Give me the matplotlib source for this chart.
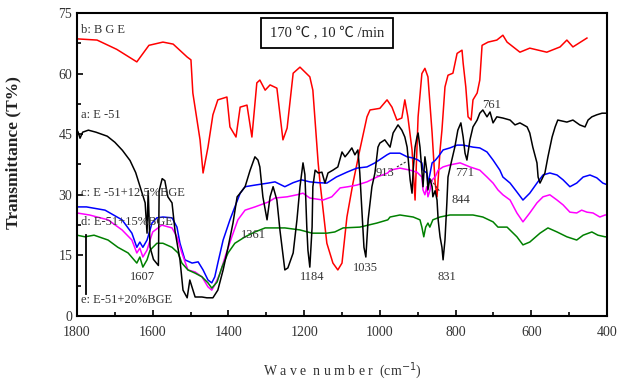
import matplotlib
matplotlib.use("Agg")
import matplotlib.pyplot as plt
from matplotlib.ticker import MultipleLocator

# b: BGE (red)
wn_b = [1800, 1747, 1695, 1642, 1610, 1573, 1546, 1509, 1499, 1494, 1475, 1467, 1454, 1441, 1428,
        1404, 1396, 1380, 1369, 1351, 1338, 1325, 1317, 1303, 1290, 1272, 1256, 1245, 1229, 1211,
        1185, 1177, 1163, 1158, 1140, 1124, 1111, 1100, 1087, 1071, 1053, 1034, 1026, 1000, 981,
        968, 955, 942, 934, 926, 915, 907, 899, 889, 881, 873, 862, 854, 849, 841,
        836, 828, 820, 807, 796, 783, 780, 773, 767, 759, 754, 743, 736, 730, 714,
        691, 675, 664, 630, 604, 559, 524, 506, 490, 453]
t_b = [68.6, 68.3, 66, 62.9, 67, 67.8, 67.3, 64.1, 63.4, 55.2, 43.6, 35.4, 41.8, 49.8, 53.5,
       54.2, 46.8, 44.3, 51.7, 52.2, 44.3, 57.7, 58.4, 55.9, 57.2, 56.4, 43.6, 46.5, 60.1, 61.6,
       59.2, 55.9, 37.9, 33, 18, 13.1, 11.4, 13.1, 24.5, 32.9, 41.1, 49.3, 51, 51.4, 53.5,
       51.7, 48.5, 49, 53.5, 49.3, 41.1, 28.7, 49.3, 60, 61.3, 59.2, 45.3, 32.9, 29.5, 41,
       46, 56.7, 59.6, 60.1, 65, 65.8, 62.6, 56.7, 49.3, 48.5, 53.5, 55.2, 58.4, 67, 67.8,
       68.3, 69.5, 67.8, 65.3, 66.3, 65.3, 66.6, 68.3, 66.6, 68.8]

# a: E-51 (black)
wn_a = [1800, 1797, 1792, 1785, 1770, 1750, 1720, 1700, 1680, 1660, 1645, 1630, 1620, 1615, 1612,
        1607, 1598, 1585, 1583, 1575, 1568, 1560, 1549, 1541, 1528, 1520, 1509, 1502, 1488, 1470,
        1457, 1441, 1428, 1414, 1401, 1388, 1377, 1369, 1356, 1343, 1330, 1322, 1317, 1309, 1298,
        1290, 1282, 1272, 1264, 1251, 1243, 1229, 1219, 1211, 1203, 1198, 1193, 1190, 1185, 1179,
        1177, 1171, 1163, 1153, 1145, 1137, 1124, 1111, 1100, 1092, 1084, 1074, 1066, 1058, 1053,
        1047, 1042, 1037, 1031, 1021, 1013, 1005, 1000, 987, 973, 965, 952, 942, 934, 928,
        920, 915, 912, 907, 902, 899, 894, 889, 886, 881, 876, 873, 868, 862, 860,
        854, 849, 846, 841, 836, 833, 828, 823, 820, 810, 802, 794, 786, 780, 775,
        770, 762, 754, 743, 736, 728, 717, 709, 701, 691, 675, 656, 643, 630, 611,
        604, 596, 585, 582, 577, 564, 556, 545, 537, 530, 506, 490, 472, 458, 450,
        440, 427, 413, 405, 400]
t_a = [46, 45.5, 44, 45.5, 46, 45.5, 44.5, 43, 41, 38.5, 35.5, 31, 28, 20.5, 31,
       17, 14, 12.5, 31, 34, 33.5, 29.5, 28, 21, 13.9, 6.4, 4.5, 8.9, 4.7, 4.7,
       4.5, 4.5, 6.4, 11.4, 17, 23, 29.5, 30.4, 32, 36, 39.4, 38.6, 36.9, 29.5, 23.8,
       29.5, 32, 28.7, 21.3, 11.4, 11.9, 15.6, 23.8, 32, 37.9, 35, 22, 16.3, 12.1, 22,
       32, 36.1, 35.4, 35.6, 32.9, 35.4, 36.1, 36.9, 40.6, 39.4, 40.3, 41.6, 39.9, 41.1, 35.4,
       25.5, 17, 14.6, 23.8, 32, 35.4, 41.8, 42.8, 43.6, 41.8, 45.3, 47.3, 46, 44.3, 41.8,
       33.7, 30.4, 36.1, 41.8, 44.3, 45.3, 41.8, 36, 32, 39.4, 36, 31.2, 34, 32, 29.5,
       31, 28.7, 23.8, 19.6, 17, 13.9, 18.8, 28, 34.4, 38.6, 41.8, 46, 47.8, 44.3, 40.3,
       38.6, 43.6, 46.8, 48.5, 50.2, 51, 49.3, 50.5, 47.8, 49.3, 49, 48.5, 47.3, 47.8, 46.8,
       45.3, 41.8, 37.9, 34.4, 32.9, 35.4, 39.4, 44.3, 46.8, 48.5, 48, 48.5, 47.3, 46.8, 48.5,
       49.3, 49.8, 50.2, 50.2, 50.2]

# stray black spike near 1775
wn_spike = [1775, 1775]
t_spike = [20, 5.5]

# c: E-51+12.5%BGE (blue)
wn_c = [1800, 1775, 1726, 1681, 1655, 1642, 1634, 1626, 1615, 1607, 1602, 1589, 1573, 1549, 1536,
        1528, 1515, 1496, 1480, 1467, 1454, 1444, 1436, 1428, 1414, 1396, 1383, 1369, 1356, 1330,
        1295, 1277, 1251, 1229, 1207, 1185, 1163, 1140, 1115, 1087, 1061, 1034, 1013, 981, 973,
        947, 928, 912, 899, 889, 886, 876, 873, 868, 862, 854, 846, 833, 815, 796,
        780, 754, 736, 717, 701, 683, 675, 656, 638, 622, 604, 585, 569, 551, 532,
        516, 498, 480, 463, 445, 427, 411, 400]
t_c = [27, 27, 26.2, 23.8, 20.5, 17, 18.3, 17, 18.8, 21.3, 23, 24.3, 24.5, 24.3, 22,
       18, 13.9, 13.1, 13.4, 11.4, 8.9, 8.2, 9.7, 13.1, 18.8, 23.8, 27, 30.4, 32, 32.4,
       32.9, 33.2, 32, 33, 33.7, 33.2, 33, 32.9, 34.4, 35.6, 36.6, 36.9, 37.9, 39.9, 40.3,
       40.3, 39.4, 39.1, 38.6, 37.9, 36.1, 35.4, 32.9, 35, 37.9, 38.5, 39.4, 41.1, 41.6, 42.3,
       42.3, 41.8, 41.6, 40.6, 38.6, 36.1, 34.4, 32.9, 30.7, 28.7, 30.4, 32.9, 34.9, 35.4, 34.9,
       33.7, 32, 32.9, 34.4, 34.9, 34.2, 32.9, 32.5]

# d: E-51+15%BGE (magenta)
wn_d = [1800, 1767, 1718, 1681, 1655, 1642, 1634, 1626, 1615, 1607, 1600, 1576, 1549, 1536, 1523,
        1507, 1488, 1470, 1454, 1444, 1436, 1422, 1409, 1391, 1375, 1356, 1330, 1295, 1277, 1245,
        1219, 1203, 1185, 1150, 1127, 1105, 1084, 1061, 1034, 1008, 979, 973, 947, 920, 902,
        889, 886, 881, 876, 873, 868, 862, 854, 846, 833, 815, 788, 762, 736, 717,
        701, 688, 675, 656, 638, 622, 604, 585, 569, 551, 532, 516, 498, 480, 467,
        453, 437, 419, 405, 400]
t_d = [25.5, 25, 23.8, 21.3, 18.8, 15.6, 16.8, 14.6, 16.3, 18.8, 20.8, 22.5, 21.8, 19.6, 15.6,
       11.4, 10.9, 9.7, 7.2, 6.4, 7.7, 10.6, 14.6, 19.6, 23.8, 26.2, 27, 28.2, 29.2, 29.5,
       30, 30.4, 29.2, 28.7, 29.5, 31.7, 32, 32.4, 33.2, 34.4, 35.4, 36.1, 36.6, 36.1, 35.6,
       34.4, 31.2, 30, 32, 29.5, 31, 33.7, 34.4, 36.1, 36.9, 37.4, 37.9, 36.9, 36.1, 34.4,
       32.9, 31.2, 30, 28.7, 25.5, 23.3, 25.5, 28, 29.5, 30, 28.7, 27.5, 25.7, 25.5, 26.2,
       25.7, 25.5, 24.5, 25, 25]

# e: E-51+20%BGE (green)
wn_e = [1800, 1779, 1755, 1718, 1692, 1665, 1642, 1634, 1626, 1615, 1607, 1589, 1573, 1549, 1533,
        1523, 1507, 1488, 1470, 1454, 1444, 1430, 1417, 1401, 1383, 1356, 1330, 1303, 1277, 1251,
        1211, 1179, 1140, 1119, 1097, 1053, 1008, 979, 973, 947, 912, 894, 889, 884, 879,
        873, 868, 860, 841, 815, 780, 754, 728, 701, 688, 664, 638, 622, 604, 577,
        556, 532, 506, 480, 463, 440, 424, 405, 400]
t_e = [20, 19.6, 20, 18.8, 17, 15.6, 13.1, 14.6, 12.1, 13.9, 16.3, 18, 18, 17, 15.6,
       13.1, 11.4, 10.6, 9.7, 8.2, 6.9, 8.4, 12.1, 15.6, 18, 19.6, 20.8, 21.8, 21.8, 21.8,
       21.3, 20.5, 20.5, 20.8, 21.8, 22, 23, 23.8, 24.5, 25, 24.5, 23.8, 22, 19.6, 22,
       23, 22, 23.8, 24.5, 25, 25, 25, 24.5, 23.3, 22, 22, 19.6, 17.6, 18.3, 20.5,
       21.8, 20.8, 19.6, 18.8, 20, 20.8, 20, 19.6, 19.6]

curve_labels = ["b: B G E", "a: E -51", "c: E -51+12.5%BGE", "d: E-51+15%BGE", "e: E-51+20%BGE"]
label_pos = [(1790, 70.8), (1790, 49.8), (1790, 30.4), (1790, 23.3), (1790, 4.0)]

peak_labels = ["1607", "1361", "1184", "1035", "913", "844", "771", "761", "831"]
peak_pos = [(1626, 9.7), (1335, 20.0), (1179, 9.7), (1039, 11.9), (987, 35.4),
            (786, 28.6), (775, 35.4), (704, 52.2), (823, 9.7)]

# short dashed leaders from labels to peaks
leaders = [((955, 36.9), (930, 38.2)), ((843, 31.0), (866, 33.8))]

x_ticks = [1800, 1600, 1400, 1200, 1000, 800, 600, 400]
y_ticks = [0, 15, 30, 45, 60, 75]

SERIF = ["Liberation Serif", "DejaVu Serif"]
TXT = "#333333"

fig = plt.figure(figsize=(6.18, 3.87), dpi=100)
ax = fig.add_axes([0.1246, 0.1835, 0.8576, 0.7829])

ax.plot(wn_b, t_b, color="#ff0000", lw=1.1)
ax.plot(wn_c, t_c, color="#0000ff", lw=1.1)
ax.plot(wn_d, t_d, color="#ff00ff", lw=1.1)
ax.plot(wn_e, t_e, color="#008000", lw=1.1)
ax.plot(wn_a, t_a, color="black", lw=1.1)
ax.plot(wn_spike, t_spike, color="black", lw=1.3)

for (x0, y0), (x1, y1) in leaders:
    ax.plot([x0, x1], [y0, y1], color="#333333", lw=0.8, ls=(0, (2, 1.5)))

for lab, (x, y) in zip(curve_labels, label_pos):
    ax.text(x, y, lab, fontsize=9, family=SERIF, color=TXT, ha="left", va="center")

for lab, (x, y) in zip(peak_labels, peak_pos):
    ax.text(x, y, lab, fontsize=9, family=SERIF, color=TXT, ha="center", va="center")

ax.text(1140, 70, "170 \u2103 , 10 \u2103 /min", fontsize=10.5,
        family=["Liberation Serif", "Noto Sans CJK SC", "DejaVu Sans"], color="#222222",
        ha="center", va="center",
        bbox=dict(boxstyle="square,pad=0.6", fc="white", ec="black", lw=1.3))

ax.set_xlim(1800, 400)
ax.set_ylim(0, 75)
ax.set_xticks(x_ticks)
ax.set_yticks(y_ticks)
ax.xaxis.set_minor_locator(MultipleLocator(100))
ax.yaxis.set_minor_locator(MultipleLocator(7.5))
ax.tick_params(which="both", direction="in", width=1.2, colors="black", labelcolor=TXT, labelsize=10)
ax.tick_params(which="major", length=4)
ax.tick_params(which="minor", length=3)
ax.tick_params(axis="x", pad=7)
for lab in ax.get_xticklabels() + ax.get_yticklabels():
    lab.set_family(SERIF)
for sp in ax.spines.values():
    sp.set_linewidth(1.5)

ax.set_xlabel("W a v e  n u m b e r  (cm$^{-1}$)", fontsize=10, family=SERIF, color=TXT)
ax.xaxis.set_label_coords(0.5, -0.145)
ax.set_ylabel("Transmittance (T%)", fontsize=12.5, family=SERIF, color="#222222", fontweight="bold")
ax.yaxis.set_label_coords(-0.104, 0.54)

fig.savefig("out.png", dpi=100)
